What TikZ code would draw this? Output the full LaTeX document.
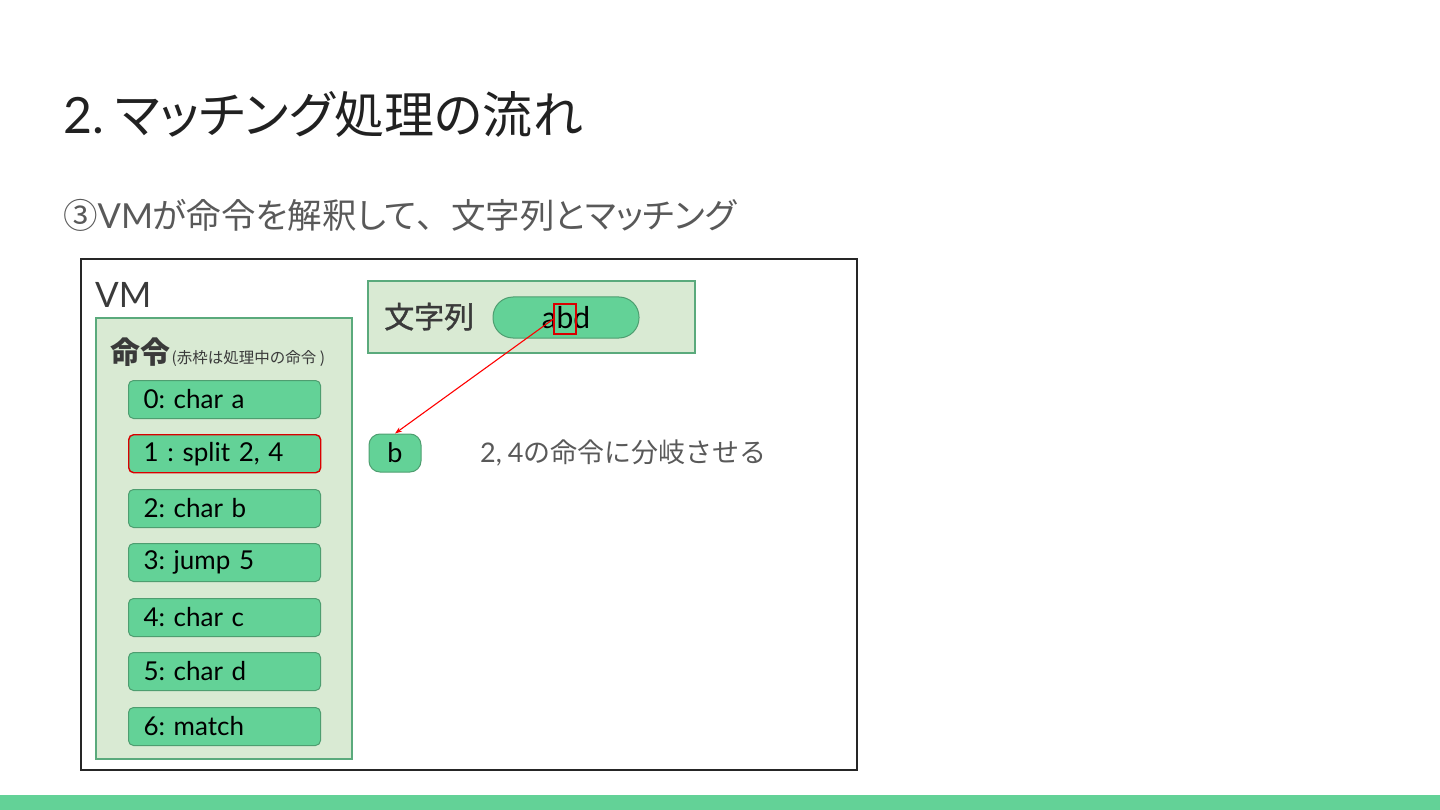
\documentclass[tikz,border=0pt]{standalone}
\usepackage{fontspec}
\setmainfont{Lato}[WordSpace=0.6]
\newfontfamily\jp{Noto Sans CJK JP}
\newfontfamily\jpp{Noto Sans CJK JP}[RawFeature=+palt]
\newfontfamily\jpm{Noto Sans CJK JP}[FakeBold=1.2]
\usetikzlibrary{positioning,arrows.meta}

\definecolor{barGreen}{HTML}{63D297}
\definecolor{panelFill}{HTML}{D9EAD3}
\definecolor{panelLine}{HTML}{5AAA7C}
\definecolor{boxLine}{HTML}{4E9E70}
\definecolor{titleGray}{HTML}{212121}
\definecolor{textGray}{HTML}{595959}
\definecolor{darkGray}{HTML}{3A3A3A}

\begin{document}
\frenchspacing
\begin{tikzpicture}[x=1pt,y=-1pt,
    panel/.style={draw=panelLine, fill=panelFill, line width=1.2pt},
    instr/.style={draw=boxLine, fill=barGreen, line width=1pt, rounded corners=5pt,
        text width=162pt, inner xsep=15pt, minimum height=38pt, align=left,
        font=\fontsize{26}{30}\selectfont, anchor=north west},
    current/.style={draw=red!85!black, line width=1.4pt},
    pill/.style={draw=boxLine, fill=barGreen, line width=1pt, rounded corners=20pt,
        minimum width=146pt, minimum height=41pt, font=\fontsize{30}{32}\selectfont},
    label/.style={inner sep=0pt, anchor=base west}]
    \useasboundingbox (0,0) rectangle (1440,810);
    \fill[barGreen] (0,795) rectangle (1440,810);

    % titles
    \node[label, text=titleGray, font=\fontsize{50}{60}\selectfont] (title) at (63,134)
        {2.\hspace{11pt}{\jpp マッチング処理の流れ}};
    \node[label, text=textGray, font=\fontsize{34.5}{40}\selectfont] (sub) at (63,229)
        {{\jpp ③}VM{\jpp が命令を解釈して}{\jp 、}{\jpp 文字列とマッチング}};

    % VM frame
    \draw[line width=1.3pt, draw=black!85] (81,259) rectangle (857,770);
    \node[label, text=darkGray, font=\fontsize{35}{40}\selectfont] (vm) at (95,308) {VM};

    % instructions
    \draw[panel] (96,318) rectangle (352,759);
    \node[label, text=darkGray, font=\jp\bfseries\fontsize{30}{32}\selectfont] (cmd) at (110,363) {命令};
    \node[label, text=darkGray, font=\jp\fontsize{15.5}{17}\selectfont, right=1pt of cmd.base east, anchor=base west] (note)
        {(赤枠は処理中の命令 )};

    \node[instr] (i0) at (128,380) {0: char a};
    \node[instr, current] (i1) at (128,434) {1 : split 2, 4};
    \node[instr] (i2) at (128,489) {2: char b};
    \node[instr] (i3) at (128,543) {3: jump 5};
    \node[instr] (i4) at (128,598) {4: char c};
    \node[instr] (i5) at (128,652) {5: char d};
    \node[instr] (i6) at (128,707) {6: match};

    % input string
    \draw[panel] (368,281) rectangle (695,353);
    \node[label, text=darkGray, font=\jpm\fontsize{30}{32}\selectfont] (str) at (384,328) {文字列};
    \node[pill] (input) at (566,317.5) {abd};
    \node[current, line width=1.2pt, minimum width=22pt, minimum height=30pt, inner sep=0pt] (pos) at (565,319) {};

    % thread
    \node[draw=boxLine, fill=barGreen, line width=1pt, rounded corners=11pt,
        minimum width=52pt, minimum height=38pt, font=\fontsize{27}{30}\selectfont] (thr) at (395,453) {b};
    \node[anchor=west, inner sep=0pt, text=textGray, font=\fontsize{27}{30}\selectfont] (msg) at (480,453)
        {2,\hspace{6pt}4{\jp の命令に分岐させる}};

    \draw[red, line width=1.1pt, -{Stealth[length=7pt,width=5pt]}] (pos.west) -- (thr.north);
\end{tikzpicture}
\end{document}
